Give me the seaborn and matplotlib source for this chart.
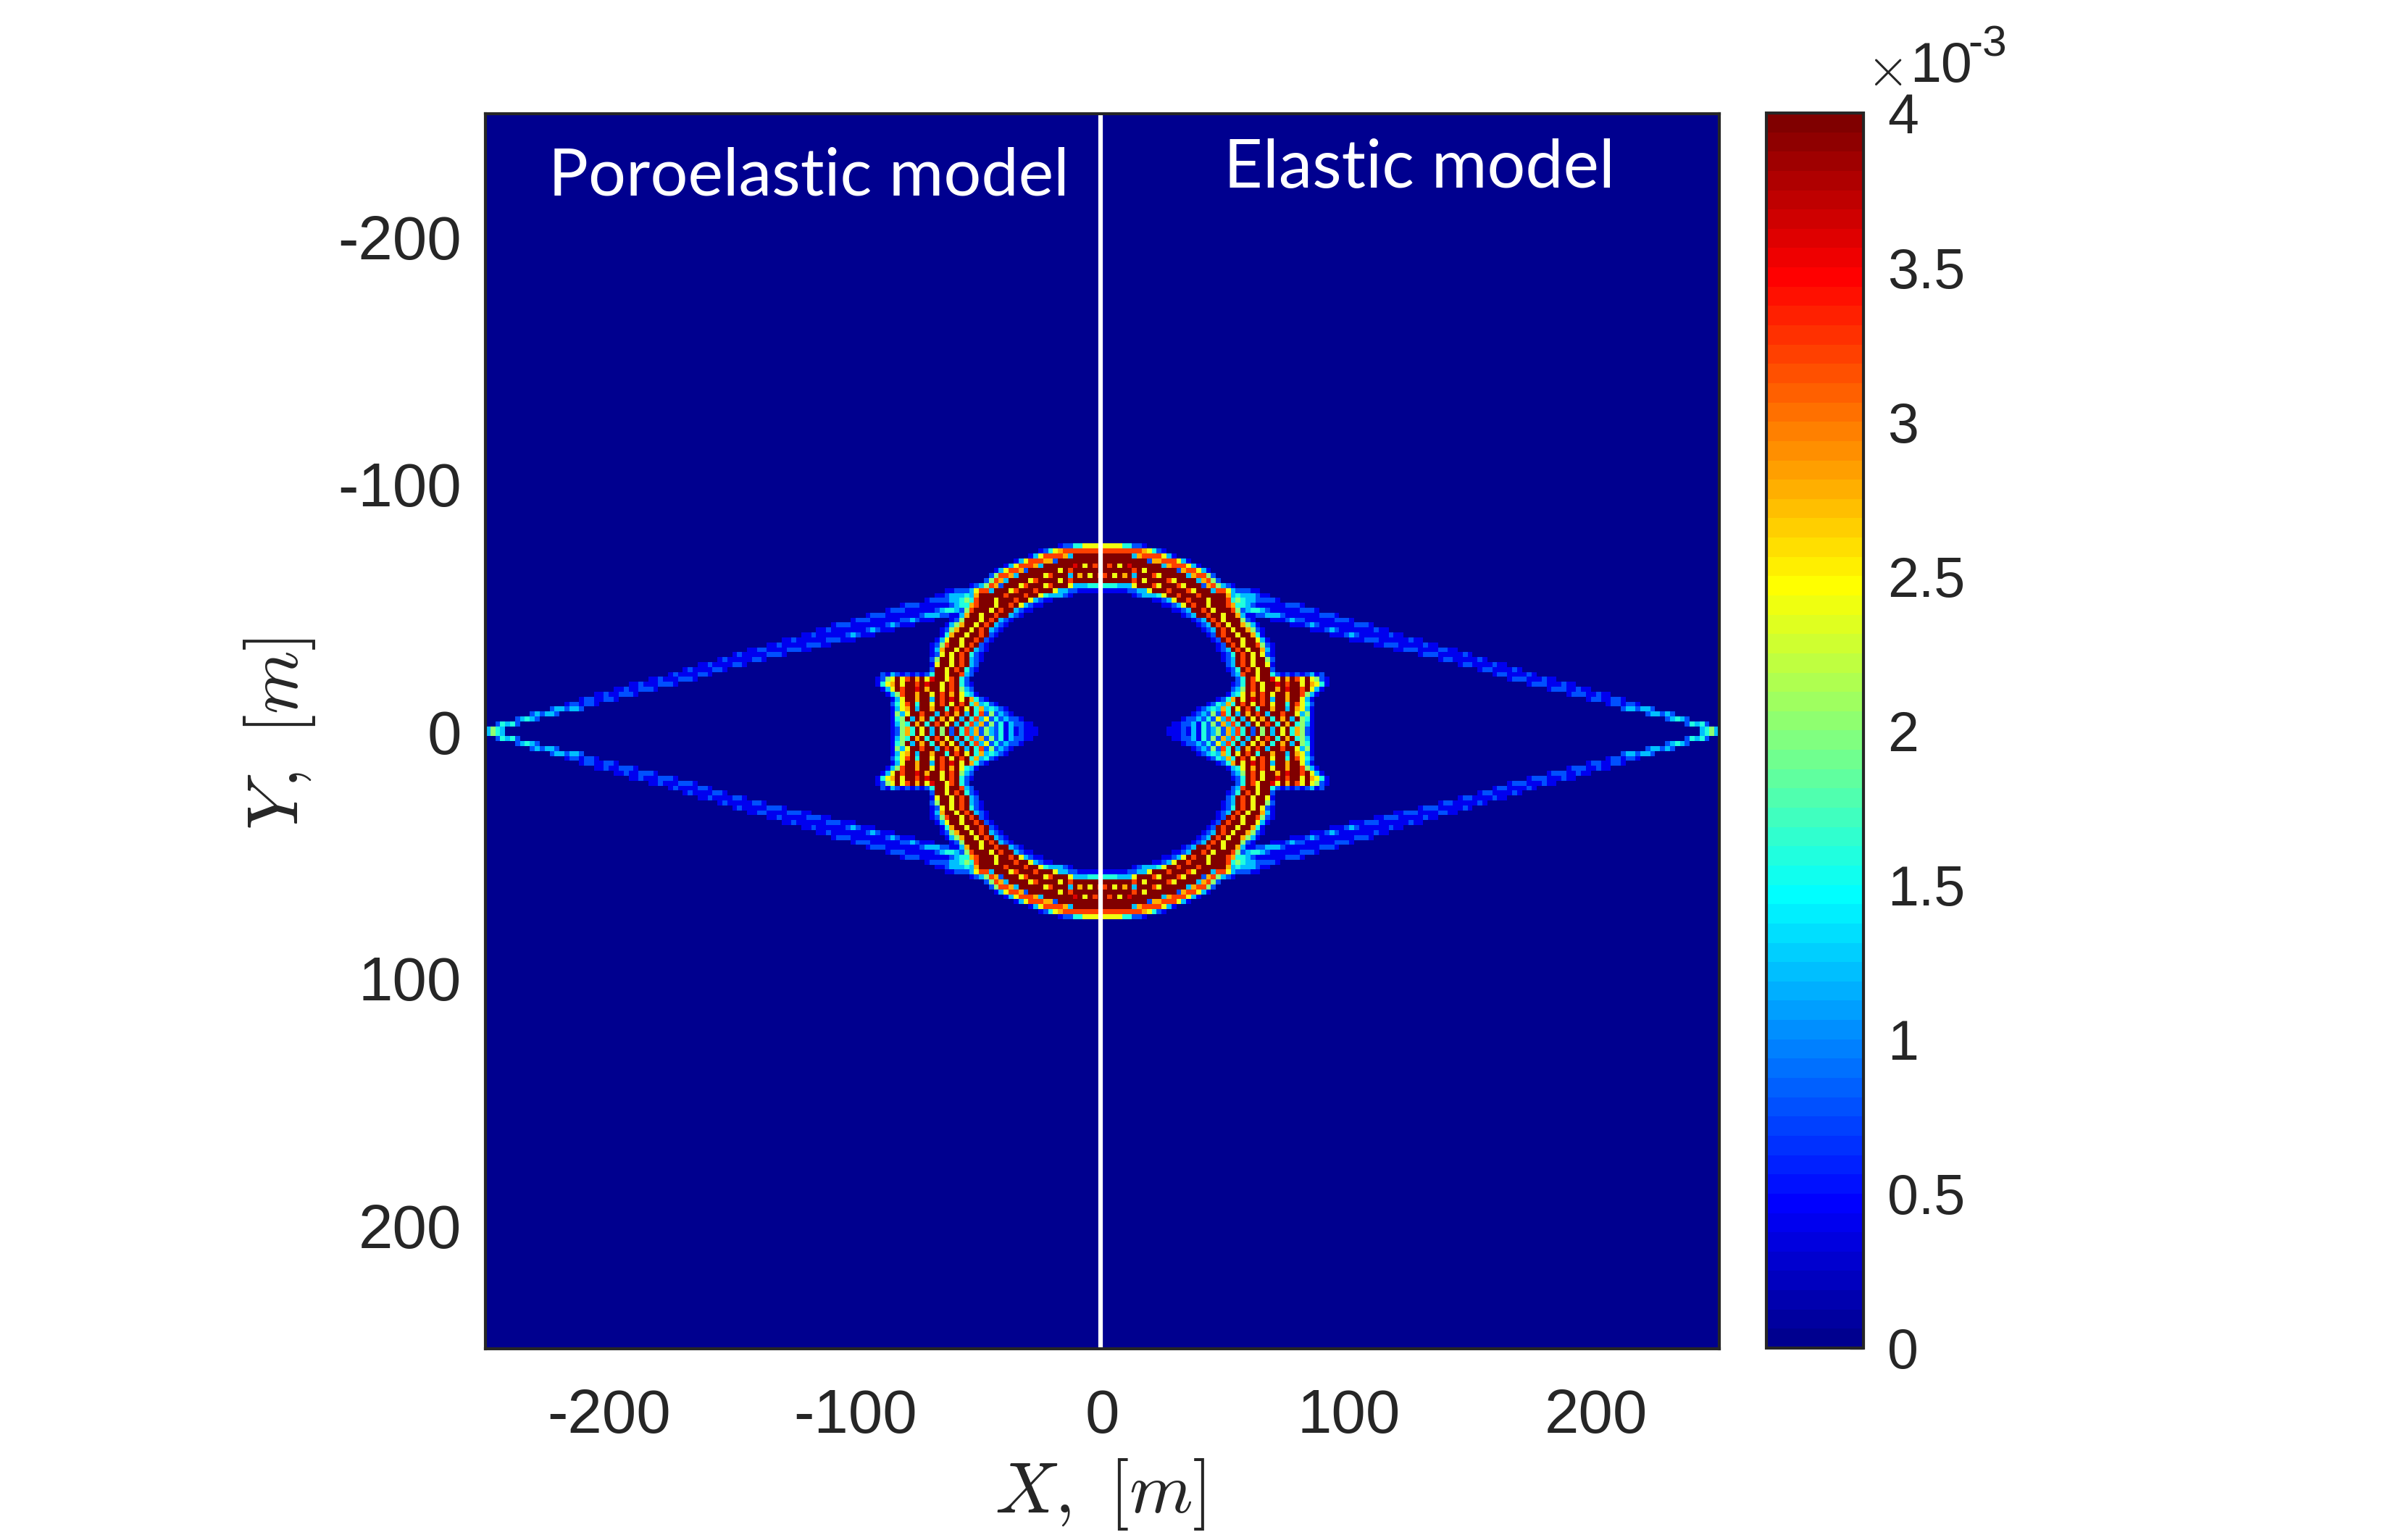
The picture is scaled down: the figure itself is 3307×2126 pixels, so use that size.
import re

import numpy as np
import seaborn as sns
import matplotlib.pyplot as plt
from matplotlib.colors import LinearSegmentedColormap

# strain levels, one letter each, used by the rows below
level_letters = "abcdefghijk"
level_values = [0.0, 0.4e-3, 0.8e-3, 1.2e-3, 1.6e-3, 2.0e-3, 2.4e-3, 2.8e-3, 3.2e-3, 3.6e-3, 4.0e-3]

# upper right quarter, 2 m cells, from |Y|=75 m down to |Y|=1 m
# letter + run length, whatever is left of a row is background
quarter_rows = [
    "g4e2c2b",
    "i8hgecb",
    "k6dhi4gdb",
    "k9ch2i3gdb",
    "kikgkjk6dhi3gdb",
    "k6ikgkk5chi2gdb",
    "ikgkhkdk3igkk4dhi2fc",
    "k6ikgk4igk4dhifc",
    "e3d3gk3igk3igk3chifdcb",
    "b5c2d2gk3ik3igk3di2gdc3b2",
    "a6bcd3egk2ik3ik5hded3cb2",
    "a10b2cdgk2ik3gk3iefed2c4b",
    "a12b2cdgkik2gk3ihe2dcb6c3b",
    "a14b2cdk2ikgk3ifcde2dcb6c3b",
    "a16bcdk2ik2gk2hdb2c2d3cb7c3b",
    "a18bcdkikgk3fcba3b3cdc2b6c3b",
    "a19bcdkikgk2hfdba6b3cdcb7c3b",
    "a20bcdkikgk2hfcba9b3cdcb6bcbb",
    "a21bckik2gk2heba13b3cdcb5bcbb",
    "a22bckik2gk2gdba16b3c3b5bcbb",
    "a23bckikgk2ifcba20b2c3b4bcbb",
    "a23bcdkikgk2hdba24b2c3b3bc2bb",
    "a24bcekikgkgcba29bc3b4bcb",
    "a24bcdkikgk2fca33bc2b4bcb",
    "a25cdkikgk2gba37bc2b3bcbb",
    "a25bcekikgk2ca41bc2b3bcb",
    "a26cdik2gk2ecbcbcbcdbca34bc2b3bcb",
    "a27cekigk2jgkhkigkgfcba36bc3b2bcbb",
    "a26bcekikgk2jkik2gkhgeba40bc3b2bcbb",
    "a26cdfkikgk2hkjk2ikgdba45bc3bbcbb",
    "a25bdegkhkikgk2hk2ifdba50bc3b2cb2",
    "a23bcehkgkjkikdk2hk2gdba55bc2b2c2b",
    "a21bcedhekikgkikgk2ekigeca59bc2bc2b",
    "a19bcdedhekgkikek2hk2dkhgdba62cd2cd2c",
    "a18bcdcfciekdkhkikdk2ik2gdfba67cd2cdc",
    "a16bc2dcecgdiekdkgkhkekhkdkfeba71cdedc",
    "a14b2c2dbecfchdiekdkgkikekhkefdba75cedec",
    "a13b3cbdbecdfchdiekckfkdkgkehfcba78defd",
]

axis_ticks = [-200, -100, 0, 100, 200]
x_tick_labels = ["-200", "-100", "0", "100", "200"]
y_tick_labels = ["-200", "-100", "0", "100", "200"]
cbar_ticks = [0, 0.5e-3, 1e-3, 1.5e-3, 2e-3, 2.5e-3, 3e-3, 3.5e-3, 4e-3]
cbar_labels = ["0", "0.5", "1", "1.5", "2", "2.5", "3", "3.5", "4"]

W, H = 3307, 2126
TEXT = "#262626"


def px_rect(left, top, right, bottom):
    return [left / W, 1 - bottom / H, (right - left) / W, (bottom - top) / H]


def build_field():
    quarter = np.zeros((125, 125))
    for k, row in enumerate(quarter_rows):
        i = len(quarter_rows) - 1 - k
        j = 0
        for letter, count in re.findall(r"([a-k])(\d*)", row):
            n = int(count) if count else 1
            quarter[i, j:j + n] = level_values[level_letters.index(letter)]
            j += n
    top = quarter[::-1, :]
    # both models look alike at this scale, the other quarters are mirrored
    return np.vstack([np.hstack([top[:, ::-1], top]),
                      np.hstack([quarter[:, ::-1], quarter])])


def main():
    sns.set_style("white")
    plt.rcParams['font.family'] = ['Liberation Sans', 'DejaVu Sans']

    jet64 = LinearSegmentedColormap.from_list("jet64", [
        (0, (0, 0, 0.5625)),
        (7 / 63, (0, 0, 1)),
        (23 / 63, (0, 1, 1)),
        (39 / 63, (1, 1, 0)),
        (55 / 63, (1, 0, 0)),
        (1, (0.5, 0, 0)),
    ], N=64)

    fig = plt.figure(figsize=(W / 300, H / 300), dpi=300)
    ax = fig.add_axes(px_rect(670, 157, 2373, 1862))
    cax = fig.add_axes(px_rect(2438, 156, 2572, 1861))

    sns.heatmap(build_field(), cmap=jet64, vmin=0, vmax=4e-3, ax=ax, cbar_ax=cax,
                xticklabels=False, yticklabels=False, square=False)

    # heatmap axes count cells, 2 m each
    ticks = [(t + 250) / 2 for t in axis_ticks]
    ax.set_xticks(ticks)
    ax.set_xticklabels(x_tick_labels)
    ax.set_yticks(ticks)
    ax.set_yticklabels(y_tick_labels, rotation=0)
    ax.tick_params(axis='both', direction='in', length=4.5, width=0.8, color=TEXT,
                   labelcolor=TEXT, labelsize=20.5, top=True, right=True,
                   left=True, bottom=True)
    ax.tick_params(axis='x', pad=13)
    ax.tick_params(axis='y', pad=8)
    for spine in ax.spines.values():
        spine.set_visible(True)
        spine.set_linewidth(1.0)
        spine.set_color(TEXT)
    ax.axvline(124.7, color='white', lw=1.5)

    cbar = ax.collections[0].colorbar
    cbar.set_ticks(cbar_ticks)
    cbar.set_ticklabels(cbar_labels)
    cbar.ax.tick_params(direction='in', length=4.5, width=0.8, color=TEXT,
                        labelcolor=TEXT, labelsize=18.5, pad=8)
    cbar.outline.set_visible(True)
    cbar.outline.set_linewidth(1.0)
    cbar.outline.set_edgecolor(TEXT)

    fig.text(1518 / W, 1 - 2063 / H, r"$X,\ [m]$", fontsize=24, color=TEXT,
             ha='center', va='center', math_fontfamily='cm')
    fig.text(386 / W, 1 - 1013 / H, r"$Y,\ [m]$", fontsize=24, color=TEXT, rotation=90,
             ha='center', va='center', math_fontfamily='cm')

    fig.text(1116 / W, 1 - 244 / H, "Poroelastic model", color='white', fontsize=22,
             family='Lato', ha='center', va='center')
    fig.text(1959 / W, 1 - 233 / H, "Elastic model", color='white', fontsize=22.4,
             family='Lato', ha='center', va='center')

    fig.text(2576 / W, 1 - 118 / H, r"$\times$", color=TEXT, fontsize=18, ha='left',
             va='baseline', math_fontfamily='cm')
    fig.text(2636 / W, 1 - 113 / H, "10", color=TEXT, fontsize=18.5, ha='left', va='baseline')
    fig.text(2716 / W, 1 - 77 / H, "-3", color=TEXT, fontsize=14.5, ha='left', va='baseline')

    plt.savefig('out.png', dpi=300)
    plt.close()


if __name__ == "__main__":
    main()
